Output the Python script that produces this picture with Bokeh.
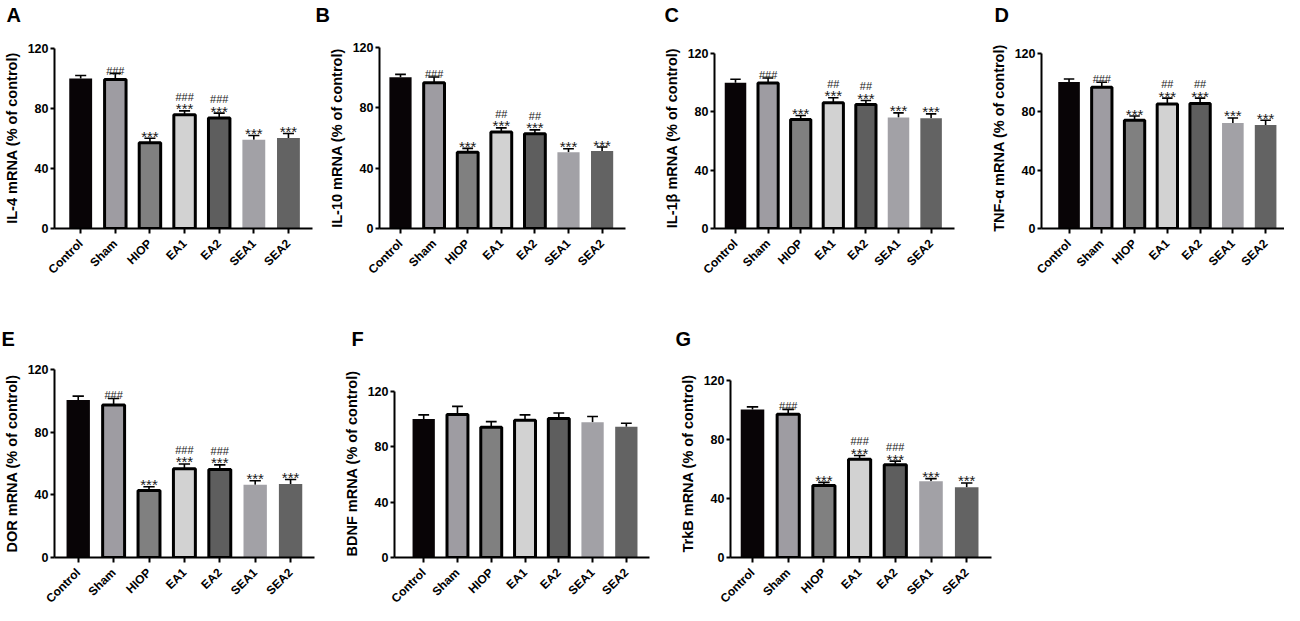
from bokeh.plotting import figure
from bokeh.layouts import row, column
from bokeh.models import Range1d, FixedTicker, ColumnDataSource
from bokeh.core.properties import value
from bokeh.embed import file_html
from bokeh.resources import INLINE

# ---------------- data ----------------
groups = ["Control", "Sham", "HIOP", "EA1", "EA2", "SEA1", "SEA2"]
y_ticks = [0, 40, 80, 120]
bar_colors = ["#080406", "#9e9ca2", "#808080", "#d2d2d2", "#5e5e5e", "#a2a1a6", "#636363"]

letters = ["A", "B", "C", "D", "E", "F", "G"]
y_labels = ["IL-4 mRNA (% of control)", "IL-10 mRNA (% of control)",
            "IL-1\u03b2 mRNA (% of control)", "TNF-\u03b1 mRNA (% of control)",
            "DOR mRNA (% of control)", "BDNF mRNA (% of control)",
            "TrkB mRNA (% of control)"]

il4_mean = [100.0, 99.3, 57.1, 75.8, 73.6, 59.1, 60.4]
il4_sem = [2.0, 4.0, 3.1, 2.6, 3.3, 2.9, 2.9]
il10_mean = [100.2, 96.6, 50.6, 64.0, 62.9, 50.6, 51.3]
il10_sem = [2.0, 3.8, 2.5, 2.7, 2.5, 2.3, 2.7]
il1b_mean = [100.0, 99.8, 74.7, 86.2, 85.1, 76.1, 75.6]
il1b_sem = [2.3, 3.4, 2.8, 3.5, 2.7, 3.2, 3.0]
tnfa_mean = [100.5, 96.9, 74.2, 85.3, 85.8, 72.4, 71.0]
tnfa_sem = [2.0, 3.4, 2.9, 4.1, 3.6, 3.4, 3.2]
dor_mean = [100.5, 97.3, 42.7, 56.7, 56.1, 46.4, 46.9]
dor_sem = [2.5, 4.2, 2.5, 3.0, 3.0, 2.6, 2.9]
bdnf_mean = [99.9, 103.1, 93.9, 99.0, 100.3, 97.6, 94.4]
bdnf_sem = [3.0, 5.9, 4.1, 3.9, 3.9, 4.1, 2.5]
trkb_mean = [100.3, 97.1, 48.7, 66.6, 62.8, 51.6, 47.6]
trkb_sem = [1.7, 3.2, 2.2, 2.5, 2.5, 1.8, 2.9]

stars_sig = ["", "", "***", "***", "***", "***", "***"]
stars_none = ["", "", "", "", "", "", ""]
hash_3 = ["", "###", "", "###", "###", "", ""]
hash_2 = ["", "###", "", "##", "##", "", ""]
hash_none = ["", "", "", "", "", "", ""]

panels_data = [
    (il4_mean, il4_sem, stars_sig, hash_3),
    (il10_mean, il10_sem, stars_sig, hash_2),
    (il1b_mean, il1b_sem, stars_sig, hash_2),
    (tnfa_mean, tnfa_sem, stars_sig, hash_2),
    (dor_mean, dor_sem, stars_sig, hash_3),
    (bdnf_mean, bdnf_sem, stars_none, hash_none),
    (trkb_mean, trkb_sem, stars_sig, hash_3),
]

# ---------------- layout (pixels, page coordinates) ----------------
ROW_H = [292, 321]
ROW_TOP = [47, 77]        # top border of every plot in that row
ROW_FRAME = [181, 191]    # frame height
TITLE_STANDOFF = [0, 40]
TITLE_PAD = ["\n\u00a0", ""]   # extra blank line lifts the letter in row 1
layout_cfg = [
    dict(row=0, start=8, w=313, l=46, r=1, c0=81, step=35.7, ytop=48, lx=6),
    dict(row=0, start=321, w=347, l=66, r=35, c0=408, step=33.6, ytop=47, lx=323),
    dict(row=0, start=668, w=327, l=54, r=33, c0=743, step=32.6, ytop=53, lx=672),
    dict(row=0, start=995, w=297, l=50, r=0, c0=1073, step=33.3, ytop=53, lx=998),
    dict(row=1, start=8, w=340, l=51, r=26, c0=83, step=35.8, ytop=369, lx=6),
    dict(row=1, start=348, w=332, l=47, r=23, c0=425, step=34.7, ytop=391, lx=352),
    dict(row=1, start=680, w=320, l=58, r=1, c0=760, step=35.7, ytop=380, lx=683),
]

FONT = "Liberation Sans"
outlined = [False, True, True, True, True, False, False]


def make_panel(idx):
    mean, sem, stars, hashes = panels_data[idx]
    cfg = layout_cfg[idx]
    rw = cfg["row"]
    row_y0 = 0 if rw == 0 else ROW_H[0]
    ftop = row_y0 + ROW_TOP[rw]
    fbot = ftop + ROW_FRAME[rw]
    y_end = 120.0 * (fbot - ftop) / (fbot - cfg["ytop"])
    L = cfg["start"] + cfg["l"]
    R = cfg["start"] + cfg["w"] - cfg["r"]
    x0 = (L - cfg["c0"]) / cfg["step"]
    x1 = (R - cfg["c0"]) / cfg["step"]

    p = figure(width=cfg["w"], height=ROW_H[rw], output_backend="svg",
               toolbar_location=None, x_range=Range1d(x0, x1),
               y_range=Range1d(0, y_end), min_border_left=cfg["l"],
               min_border_right=cfg["r"], min_border_top=ROW_TOP[rw],
               min_border_bottom=ROW_H[rw] - ROW_TOP[rw] - ROW_FRAME[rw])
    p.outline_line_color = None
    p.grid.visible = False
    p.background_fill_color = "white"
    p.border_fill_color = "white"

    xs = list(range(len(groups)))
    caps = [m + s for m, s in zip(mean, sem)]
    src = ColumnDataSource(dict(
        x=xs, top=mean, cap=caps, color=bar_colors,
        lw=[3 if o else 0 for o in outlined],
        la=[1 if o else 0 for o in outlined],
        bw=[0.62 if o else 0.66 for o in outlined],
        stars=stars, hashes=hashes,
        hoff=[-14 if s else -3 for s in stars],
        cl=[x - 0.16 for x in xs], cr=[x + 0.16 for x in xs],
    ))
    p.segment(x0="x", y0="top", x1="x", y1="cap", source=src,
              line_color="black", line_width=1.6)
    p.segment(x0="cl", y0="cap", x1="cr", y1="cap", source=src,
              line_color="black", line_width=1.6)
    p.vbar(x="x", top="top", bottom=0, width="bw", source=src,
           fill_color="color", line_color="black", line_width="lw",
           line_alpha="la")

    p.text(x="x", y="cap", text="stars", source=src, text_align="center",
           text_baseline="alphabetic", y_offset=-2, text_font=value(FONT),
           text_font_size="15px", text_color="#1a1a1a")
    p.text(x="x", y="cap", text="hashes", source=src, text_align="center",
           text_baseline="alphabetic", y_offset="hoff", text_font=value(FONT),
           text_font_size="11px", text_color="#1a1a1a")

    p.xaxis.ticker = FixedTicker(ticks=xs)
    p.xaxis.major_label_overrides = {i: g for i, g in enumerate(groups)}
    p.xaxis.major_label_orientation = 0.785398
    p.yaxis.ticker = FixedTicker(ticks=y_ticks)
    p.yaxis.bounds = (0, 120)
    p.xaxis.minor_tick_line_color = None
    p.yaxis.minor_tick_line_color = None
    for ax in (p.xaxis, p.yaxis):
        ax.axis_line_width = 2
        ax.axis_line_color = "black"
        ax.major_tick_line_width = 2
        ax.major_tick_line_color = "black"
        ax.major_tick_in = 0
        ax.major_label_text_font = FONT
        ax.major_label_text_font_style = "bold"
        ax.major_label_text_color = "black"
    p.xaxis.major_label_text_font_size = "12px"
    p.yaxis.major_label_text_font_size = "12.5px"
    p.xaxis.major_tick_out = 5
    p.yaxis.major_tick_out = 4
    p.xaxis.major_label_standoff = 8
    p.yaxis.major_label_standoff = 2
    p.yaxis.axis_label = y_labels[idx]
    p.yaxis.axis_label_text_font = FONT
    p.yaxis.axis_label_text_font_style = "bold"
    p.yaxis.axis_label_text_font_size = "14.5px"
    p.yaxis.axis_label_text_color = "black"
    p.yaxis.axis_label_standoff = 5

    p.title.text = letters[idx] + TITLE_PAD[rw]
    p.title.text_font = FONT
    p.title.text_font_style = "bold"
    p.title.text_font_size = "20px"
    p.title.text_line_height = 1.0
    p.title.text_color = "black"
    p.title.align = "left"
    p.title.offset = cfg["lx"] - L
    p.title.vertical_align = "bottom"
    p.title.standoff = TITLE_STANDOFF[rw]
    return p


figs = [make_panel(i) for i in range(7)]
layout = column(row(*figs[:4], spacing=0), row(*figs[4:], spacing=0), spacing=0)

open("out.html", "w").write(file_html(layout, INLINE))
